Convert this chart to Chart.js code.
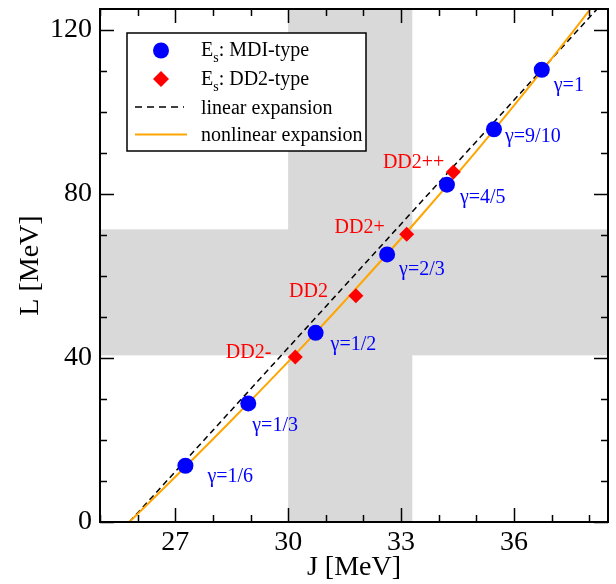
<!DOCTYPE html>
<html lang="en">
<head>
<meta charset="UTF-8"/>
<title>L vs J</title>
<script src="https://cdn.jsdelivr.net/npm/chart.js"></script>
<style>
  *{box-sizing:border-box;margin:0;padding:0}
  body{background:#fff;width:616px;height:584px;overflow:hidden}
</style>
</head>
<body>
<canvas id="chart" width="616" height="584"></canvas>
<script>
// E_s: MDI-type points
const mdiJ=[27.27,28.94,30.73,32.63,34.22,35.47,36.74];
const mdiL=[13.7,28.9,46.1,65.2,82.2,95.7,110.2];
const mdiNames=['γ=1/6','γ=1/3','γ=1/2','γ=2/3','γ=4/5','γ=9/10','γ=1'];

// E_s: DD2-type points
const dd2J=[30.19,31.80,33.15,34.39];
const dd2L=[40.2,55.1,70.1,85.3];
const dd2Names=['DD2-','DD2','DD2+','DD2++'];

// expansions
const linearJ=[25.78,38.21];
const linearL=[0,125];
const nonlinJ=[25.78,26.89,27.98,29.05,30.10,31.12,32.11,33.09,34.04,34.97,35.87,36.75,37.61,38.03];
const nonlinL=[0,10,20,30,40,50,60,70,80,90,100,110,120,125];

// shaded constraint bands
const bandJ=[30.0,33.3];
const bandL=[40.6,71.3];

// axes
const xMajor=[27,30,33,36];
const yMajor=[0,40,80,120];

// label offsets from their marker, in px
const mdiOff=[[22,11],[4,22],[15,12],[12,15],[13,13],[11,8],[12,16]];
const dd2Off=[[-24,-4],[-28,-4],[-22,-7],[-9,-9]];

const SERIF="'Liberation Serif','Times New Roman',serif";
const pts=(xs,ys)=>xs.map((v,i)=>({x:v,y:ys[i]}));

const decor={
  id:'decor',
  beforeDatasetsDraw(chart){
    const {ctx,chartArea:a,scales:{x,y}}=chart;
    ctx.save();
    ctx.fillStyle='#d9d9d9';
    const x0=x.getPixelForValue(bandJ[0]),x1=x.getPixelForValue(bandJ[1]);
    ctx.fillRect(x0,a.top,x1-x0,a.bottom-a.top);
    const y0=y.getPixelForValue(bandL[1]),y1=y.getPixelForValue(bandL[0]);
    ctx.fillRect(a.left,y0,a.right-a.left,y1-y0);
    ctx.restore();
  },
  afterDatasetsDraw(chart){
    const {ctx,chartArea:a,scales:{x,y}}=chart;
    ctx.save();
    // point labels
    ctx.font='20px '+SERIF;
    ctx.textBaseline='middle';
    ctx.fillStyle='#0000ff';ctx.textAlign='left';
    mdiNames.forEach((t,i)=>{
      ctx.fillText(t,x.getPixelForValue(mdiJ[i])+mdiOff[i][0],y.getPixelForValue(mdiL[i])+mdiOff[i][1]);
    });
    ctx.fillStyle='#ff0000';ctx.textAlign='right';
    dd2Names.forEach((t,i)=>{
      ctx.fillText(t,x.getPixelForValue(dd2J[i])+dd2Off[i][0],y.getPixelForValue(dd2L[i])+dd2Off[i][1]);
    });

    // inward ticks on all four sides
    ctx.strokeStyle='#000';ctx.lineWidth=1.5;
    ctx.beginPath();
    for(let v=Math.ceil(x.min);v<=x.max;v++){
      const len=xMajor.includes(v)?14:7, p=Math.round(x.getPixelForValue(v))+0.5;
      ctx.moveTo(p,a.bottom);ctx.lineTo(p,a.bottom-len);
      ctx.moveTo(p,a.top);ctx.lineTo(p,a.top+len);
    }
    for(let v=0;v<=y.max;v+=10){
      const len=yMajor.includes(v)?14:7, p=Math.round(y.getPixelForValue(v))+0.5;
      ctx.moveTo(a.left,p);ctx.lineTo(a.left+len,p);
      ctx.moveTo(a.right,p);ctx.lineTo(a.right-len,p);
    }
    ctx.stroke();
    ctx.lineWidth=2;
    ctx.strokeRect(a.left,a.top,a.right-a.left,a.bottom-a.top);

    // legend
    ctx.fillStyle='#fff';ctx.fillRect(127,33,239,118);
    ctx.lineWidth=1.5;ctx.strokeRect(127,33,239,118);
    ctx.fillStyle='#0000ff';
    ctx.beginPath();ctx.arc(161,50.5,8,0,Math.PI*2);ctx.fill();
    ctx.fillStyle='#ff0000';
    ctx.beginPath();ctx.moveTo(161,71);ctx.lineTo(169,79);ctx.lineTo(161,87);ctx.lineTo(153,79);ctx.closePath();ctx.fill();
    ctx.strokeStyle='#000';ctx.lineWidth=1.5;ctx.setLineDash([7,5]);
    ctx.beginPath();ctx.moveTo(135,107);ctx.lineTo(184,107);ctx.stroke();
    ctx.setLineDash([]);
    ctx.strokeStyle='#ffa500';ctx.lineWidth=2;
    ctx.beginPath();ctx.moveTo(135,134.5);ctx.lineTo(187,134.5);ctx.stroke();

    ctx.fillStyle='#000';ctx.textAlign='left';ctx.textBaseline='alphabetic';
    const es=(rest,base)=>{
      let tx=201;
      ctx.font='20px '+SERIF;ctx.fillText('E',tx,base);tx+=ctx.measureText('E').width;
      ctx.font='14px '+SERIF;ctx.fillText('s',tx,base+6);tx+=ctx.measureText('s').width;
      ctx.font='20px '+SERIF;ctx.fillText(rest,tx,base);
    };
    es(': MDI-type',56);
    es(': DD2-type',85);
    ctx.font='20px '+SERIF;
    ctx.fillText('linear expansion',201,113.5);
    ctx.fillText('nonlinear expansion',201,141);
    ctx.restore();
  }
};

new Chart(document.getElementById('chart'),{
  type:'scatter',
  data:{datasets:[
    {label:'MDI',data:pts(mdiJ,mdiL),backgroundColor:'#0000ff',borderColor:'#0000ff',pointRadius:8,pointBorderWidth:0,order:0},
    {label:'DD2',data:pts(dd2J,dd2L),pointStyle:'rectRot',backgroundColor:'#ff0000',borderColor:'#ff0000',pointRadius:7.5,pointBorderWidth:0,order:0},
    {label:'linear expansion',data:pts(linearJ,linearL),showLine:true,borderColor:'#000',borderWidth:1.5,borderDash:[6,4],pointRadius:0,order:2},
    {label:'nonlinear expansion',data:pts(nonlinJ,nonlinL),showLine:true,borderColor:'#ffa500',borderWidth:2,tension:0.3,pointRadius:0,order:1}
  ]},
  options:{
    responsive:false,animation:false,devicePixelRatio:1,
    layout:{padding:{top:9,right:5,left:0,bottom:0}},
    plugins:{legend:{display:false},tooltip:{enabled:false}},
    scales:{
      x:{type:'linear',min:25,max:38.5,
        afterBuildTicks:s=>{s.ticks=xMajor.map(v=>({value:v}));},
        afterFit:s=>{s.height=62;s.paddingLeft=0;s.paddingRight=0;},
        grid:{display:false,drawTicks:false},border:{display:false},
        ticks:{color:'#000',font:{family:SERIF,size:28},padding:4,maxRotation:0},
        title:{display:true,text:'J [MeV]',color:'#000',font:{family:SERIF,size:28},padding:{top:0,bottom:0}}
      },
      y:{type:'linear',min:0,max:125,
        afterBuildTicks:s=>{s.ticks=yMajor.map(v=>({value:v}));},
        afterFit:s=>{s.width=100;s.paddingTop=0;s.paddingBottom=0;},
        grid:{display:false,drawTicks:false},border:{display:false},
        ticks:{color:'#000',font:{family:SERIF,size:28},padding:8},
        title:{display:true,text:'L [MeV]',color:'#000',font:{family:SERIF,size:28},padding:{top:14,bottom:0}}
      }
    }
  },
  plugins:[decor]
});
</script>
</body>
</html>
